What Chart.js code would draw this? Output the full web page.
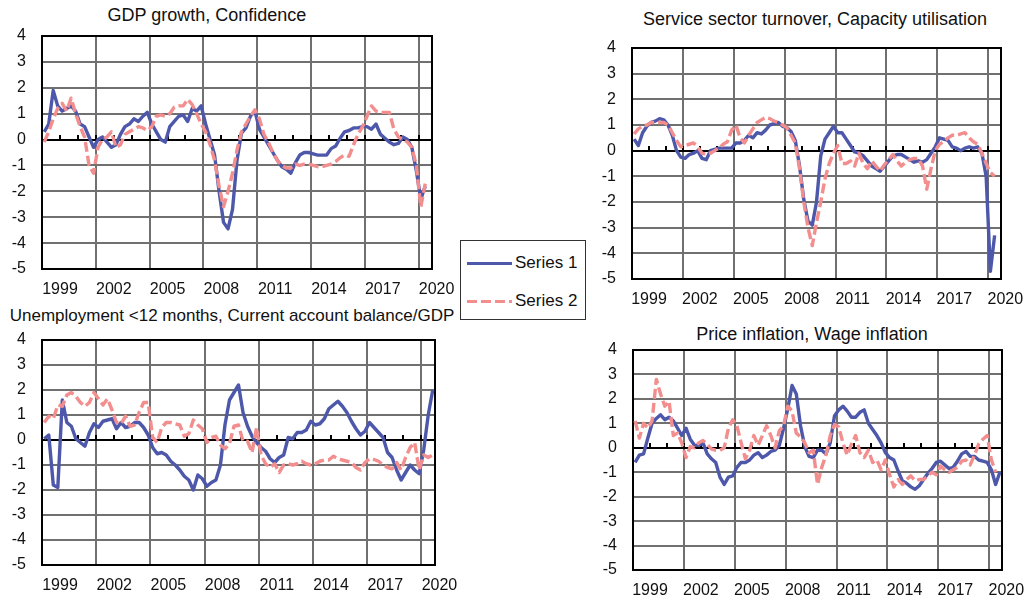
<!DOCTYPE html>
<html>
<head>
<meta charset="utf-8">
<script src="https://cdn.jsdelivr.net/npm/chart.js@4.4.1/dist/chart.umd.min.js"></script>
<style>
  body { margin: 0; background: #fff; font-family: "Liberation Sans", Arial, sans-serif; color: #111; }
  #page { position: relative; width: 1024px; height: 598px; overflow: hidden; }
  canvas { position: absolute; }
  .ttl { position: absolute; font-size: 18px; line-height: 20px; white-space: nowrap; transform: translateX(-50%); }
  #legend { position: absolute; left: 460px; top: 240px; width: 124px; height: 78px; border: 1px solid #333; background: #fff; }
  .row { position: absolute; left: 6px; height: 20px; font-size: 17px; line-height: 20px; }
  .sw { position: absolute; left: 0; top: 9px; width: 45px; height: 3px; }
  .row span { position: absolute; left: 48px; white-space: nowrap; }
</style>
</head>
<body>
<div id="page">
  <div class="ttl" style="left:207px;top:5px">GDP growth, Confidence</div>
  <div class="ttl" style="left:815px;top:9px">Service sector turnover, Capacity utilisation</div>
  <div class="ttl" style="left:232px;top:306px;font-size:17px">Unemployment  &lt;12 months, Current account balance/GDP</div>
  <div class="ttl" style="left:812px;top:324px">Price inflation, Wage inflation</div>

  <canvas id="c1" width="460" height="274" style="left:0;top:26px"></canvas>
  <canvas id="c2" width="434" height="272" style="left:590px;top:38px"></canvas>
  <canvas id="c3" width="460" height="266" style="left:0;top:330px"></canvas>
  <canvas id="c4" width="433" height="258" style="left:591px;top:340px"></canvas>

  <div id="legend">
    <div class="row" style="top:12px"><div class="sw" style="background:#4E58AA"></div><span>Series 1</span></div>
    <div class="row" style="top:50px"><div class="sw" style="background:repeating-linear-gradient(to right,#F28E8E 0 10px,transparent 10px 14px)"></div><span>Series 2</span></div>
  </div>
</div>
<script>
// axis labels (one every 12 quarters)
const yearLabels = ["1999", "2002", "2005", "2008", "2011", "2014", "2017", "2020"];

// quarterly values, standardised
const gdpGrowth = [0.3, 0.6, 1.9, 1.3, 1.1, 1.2, 1.3, 1.1, 0.6, 0.5,
  0.1, -0.3, 0.0, 0.1, -0.1, -0.3, -0.2, 0.2, 0.5, 0.6,
  0.8, 0.7, 0.9, 1.05, 0.6, 0.3, 0.0, -0.1, 0.5, 0.7,
  0.9, 0.95, 0.7, 1.2, 1.1, 1.3, 0.6, 0.0, -0.6, -2.0,
  -3.2, -3.45, -2.7, -0.8, 0.25, 0.45, 0.9, 1.1, 0.4, 0.1,
  -0.2, -0.5, -0.8, -1.05, -1.15, -1.3, -0.9, -0.6, -0.5, -0.5,
  -0.55, -0.6, -0.6, -0.6, -0.35, -0.25, 0.05, 0.3, 0.35, 0.45,
  0.45, 0.5, 0.5, 0.4, 0.6, 0.2, 0.05, -0.1, -0.2, -0.15,
  0.1, 0.0, -0.3, -1.2, -2.3, -1.8];
const confidence = [-0.1, 0.3, 0.8, 1.2, 1.4, 1.1, 1.6, 1.0, 0.5, 0.1,
  -1.0, -1.3, -0.3, 0.0, 0.1, 0.3, -0.3, -0.2, 0.2, 0.3,
  0.4, 0.5, 0.45, 0.35, 0.5, 0.9, 0.95, 0.9, 1.0, 1.25,
  1.3, 1.3, 1.55, 1.35, 1.0, 0.6, 0.3, -0.2, -0.8, -1.8,
  -2.6, -2.0, -1.3, -0.4, 0.3, 0.6, 0.9, 1.15, 0.8, 0.2,
  -0.1, -0.5, -0.8, -1.0, -1.1, -1.1, -0.95, -1.0, -0.95, -0.95,
  -1.0, -1.05, -1.05, -1.0, -0.95, -0.85, -0.7, -0.6, -0.65, -0.2,
  0.2, 0.5, 0.9, 1.3, 1.1, 1.05, 1.05, 1.05, 0.4, 0.1,
  0.0, -0.1, -0.3, -1.0, -2.6, -1.7];

const serviceTurnover = [0.45, 0.2, 0.7, 0.95, 1.1, 1.15, 1.25, 1.2, 1.0, 0.6,
  0.0, -0.25, -0.3, -0.15, -0.1, 0.0, -0.3, -0.35, 0.0, 0.05,
  0.1, 0.1, 0.1, 0.1, 0.3, 0.3, 0.4, 0.6, 0.5, 0.7,
  0.65, 0.8, 1.0, 1.05, 1.1, 0.95, 0.9, 0.75, 0.4, -0.6,
  -1.9, -2.75, -2.9, -2.0, -0.2, 0.45, 0.7, 0.95, 0.7, 0.7,
  0.45, 0.2, -0.05, -0.1, -0.2, -0.4, -0.6, -0.7, -0.8, -0.6,
  -0.4, -0.2, -0.15, -0.15, -0.25, -0.35, -0.45, -0.4, -0.45, -0.35,
  -0.1, 0.15, 0.5, 0.45, 0.4, 0.15, 0.1, 0.0, 0.1, 0.15,
  0.1, 0.15, -0.1, -1.0, -4.7, -3.3];
const capacityUtil = [0.65, 0.85, 0.95, 1.0, 1.1, 1.1, 1.1, 1.1, 1.0, 0.7,
  0.4, 0.15, 0.2, 0.25, 0.3, 0.15, -0.1, -0.15, -0.1, 0.0,
  0.1, 0.25, 0.35, 0.8, 1.0, 0.5, 0.3, 0.6, 0.85, 1.1,
  1.2, 1.3, 1.25, 1.15, 1.1, 1.0, 0.9, 0.6, 0.3, -0.7,
  -2.0, -3.0, -3.7, -2.8, -2.0, -1.1, -0.5, -0.1, 0.2, -0.5,
  -0.5, -0.4, -0.6, -0.1, -0.5, -0.7, -0.4, -0.6, -0.8, -0.55,
  -0.35, -0.15, -0.4, -0.6, -0.45, -0.35, -0.3, -0.3, -0.6, -1.5,
  -0.7, 0.0, 0.25, 0.35, 0.5, 0.6, 0.6, 0.65, 0.7, 0.5,
  0.35, 0.25, -0.1, -0.5, -0.85, -1.0];

const unemployment = [0.05, 0.2, -1.8, -1.9, 1.6, 0.7, 0.55, 0.05, -0.1, -0.25,
  0.3, 0.65, 0.5, 0.75, 0.8, 0.85, 0.45, 0.7, 0.5, 0.55,
  0.7, 0.7, 0.5, 0.2, -0.3, -0.55, -0.5, -0.6, -0.85, -1.0,
  -1.2, -1.45, -1.6, -2.0, -1.4, -1.55, -1.85, -1.7, -1.6, -1.0,
  0.6, 1.6, 1.9, 2.2, 1.1, 0.55, 0.15, -0.1, -0.3, -0.45,
  -0.75, -0.9, -0.7, -0.6, 0.1, 0.05, 0.3, 0.3, 0.4, 0.75,
  0.6, 0.65, 0.85, 1.25, 1.4, 1.55, 1.35, 1.1, 0.75, 0.45,
  0.2, 0.35, 0.7, 0.5, 0.3, 0.1, -0.5, -0.7, -1.2, -1.6,
  -1.3, -1.0, -1.2, -1.35, -0.4, 1.0, 2.0];
const currentAccount = [0.7, 0.95, 0.85, 1.4, 1.35, 1.8, 1.9, 1.75, 1.5, 1.35,
  1.5, 1.9, 1.65, 1.4, 1.65, 1.2, 0.7, 0.65, 0.95, 0.55,
  0.6, 1.1, 1.5, 1.5, 0.1, -0.1, 0.5, 0.7, 0.7, 0.65,
  0.6, 0.15, 0.25, 0.8, 0.6, 0.45, -0.1, 0.1, 0.15, -0.2,
  -0.35, -0.15, 0.55, 0.6, -0.05, -0.05, -0.5, 0.5, -0.6, -0.95,
  -1.1, -0.95, -1.3, -1.0, -0.95, -1.0, -0.95, -0.85, -0.95, -1.0,
  -0.95, -0.85, -0.8, -0.8, -0.65, -0.75, -0.8, -0.85, -0.9, -1.1,
  -1.2, -0.9, -0.75, -0.78, -0.85, -1.0, -1.1, -1.15, -0.9, -1.2,
  -0.7, -0.3, -0.1, -1.2, -0.6, -0.7, -0.6];

const priceInflation = [-0.6, -0.3, -0.25, 0.4, 1.0, 1.2, 1.35, 1.15, 1.25, 1.1,
  0.8, 0.5, 0.8, 0.35, 0.1, 0.1, 0.2, -0.25, -0.45, -0.6,
  -1.2, -1.5, -1.2, -1.15, -0.8, -0.6, -0.6, -0.5, -0.3, -0.2,
  -0.4, -0.3, -0.15, -0.1, 0.1, 0.8, 1.6, 2.55, 2.2, 0.9,
  0.05, -0.35, -0.4, -0.1, -0.1, -0.25, 0.2, 1.3, 1.55, 1.7,
  1.5, 1.25, 1.25, 1.45, 1.55, 1.0, 0.75, 0.5, 0.2, -0.2,
  -0.4, -0.5, -0.95, -1.35, -1.45, -1.6, -1.7, -1.55, -1.3, -1.05,
  -0.85, -0.6, -0.55, -0.7, -0.85, -0.8, -0.55, -0.25, -0.15, -0.35,
  -0.35, -0.5, -0.55, -0.6, -0.9, -1.5, -1.0];
const wageInflation = [1.1, 0.4, 1.0, 0.8, 1.1, 2.8, 2.2, 1.7, 1.9, 0.5,
  0.6, 0.2, -0.4, 0.05, 0.0, 0.2, 0.3, 0.15, -0.05, -0.1,
  -0.1, 0.0, 0.8, 1.15, 0.9, 0.2, -0.45, -0.1, 0.5, 0.1,
  0.5, 0.9, 0.5, 0.0, 0.7, 0.9, 1.7, 1.5, 0.6, 0.45,
  0.2, -0.2, -0.1, -1.5, -0.8, -0.3, 0.5, 0.95, 0.85, 0.2,
  -0.3, 0.15, 0.5, -0.2, -0.4, -0.1, -0.6, -0.5, -0.9, -0.5,
  -1.1, -1.6, -1.3, -1.5, -1.3, -1.15, -1.35, -1.3, -1.3, -1.15,
  -1.0, -1.1, -0.75, -0.9, -1.0, -0.9, -0.8, -0.55, -0.5, -0.7,
  -0.3, 0.15, 0.35, 0.5, -0.5, -1.0];

const BLUE = "#4E58AA";
const PINK = "#F28E8E";
const TICK_FONT = { family: "'Liberation Sans', Arial", size: 16 };

// grid, zero line with yearly tick marks, and the plot frame
const framePlugin = {
  id: "frame",
  beforeDatasetsDraw(chart) {
    const { ctx, chartArea: a, scales } = chart;
    const x = scales.x, y = scales.y;
    ctx.save();
    ctx.setLineDash([]);
    ctx.strokeStyle = "#707070";
    ctx.lineWidth = 2;
    x.ticks.forEach(t => {
      const px = Math.round(x.getPixelForValue(t.value));
      ctx.beginPath();
      ctx.moveTo(px, a.top);
      ctx.lineTo(px, a.bottom);
      ctx.stroke();
    });
    y.ticks.forEach(t => {
      if (t.value === 0) return;
      const py = Math.round(y.getPixelForValue(t.value));
      ctx.beginPath();
      ctx.moveTo(a.left, py);
      ctx.lineTo(a.right, py);
      ctx.stroke();
    });

    const y0 = Math.round(y.getPixelForValue(0));
    ctx.strokeStyle = "#000";
    ctx.lineWidth = 2;
    ctx.beginPath();
    ctx.moveTo(a.left, y0);
    ctx.lineTo(a.right, y0);
    ctx.stroke();

    for (let v = x.min + 4; v < x.max; v += 4) {
      const px = Math.round(x.getPixelForValue(v));
      ctx.beginPath();
      ctx.moveTo(px, y0);
      ctx.lineTo(px, y0 - 5);
      ctx.stroke();
    }

    ctx.strokeRect(a.left, a.top, a.right - a.left, a.bottom - a.top);
    ctx.restore();
  }
};

function panel(id, s1, s2, padRight, xHeight, labelOffset) {
  new Chart(document.getElementById(id), {
    type: "line",
    data: {
      datasets: [
        { label: "Series 1", data: s1.map((v, i) => ({ x: i, y: v })), borderColor: BLUE, borderWidth: 3.4, order: 1 },
        { label: "Series 2", data: s2.map((v, i) => ({ x: i, y: v })), borderColor: PINK, borderWidth: 3.4, borderDash: [10, 4], order: 0 }
      ]
    },
    options: {
      responsive: false,
      animation: false,
      devicePixelRatio: 1,
      layout: { padding: { top: 10, right: padRight, left: 0, bottom: 0 } },
      elements: { point: { radius: 0 }, line: { tension: 0, borderJoinStyle: "round" } },
      plugins: { legend: { display: false }, tooltip: { enabled: false } },
      scales: {
        x: {
          type: "linear",
          bounds: "data",
          min: -0.5,
          max: 86.5,
          afterBuildTicks: s => { s.ticks = yearLabels.map((t, k) => ({ value: -0.5 + 12 * k })); },
          afterFit: s => { s.height = xHeight; s.paddingLeft = 0; s.paddingRight = 0; },
          grid: { display: false, drawTicks: false },
          border: { display: false },
          ticks: {
            autoSkip: false,
            maxRotation: 0,
            padding: 11,
            labelOffset: labelOffset,
            color: "#111",
            font: TICK_FONT,
            callback: (v, i) => yearLabels[i]
          }
        },
        y: {
          min: -5,
          max: 4,
          afterFit: s => { s.width = 42; s.paddingTop = 0; s.paddingBottom = 0; },
          grid: { display: false, drawTicks: false },
          border: { display: false },
          ticks: { stepSize: 1, autoSkip: false, padding: 16, color: "#111", font: TICK_FONT }
        }
      }
    },
    plugins: [framePlugin]
  });
}

panel("c1", gdpGrowth, confidence, 28, 31, 18);
panel("c2", serviceTurnover, capacityUtil, 23, 31, 17);
panel("c3", unemployment, currentAccount, 25, 31, 18);
panel("c4", priceInflation, wageInflation, 22, 28, 17);
</script>
</body>
</html>
